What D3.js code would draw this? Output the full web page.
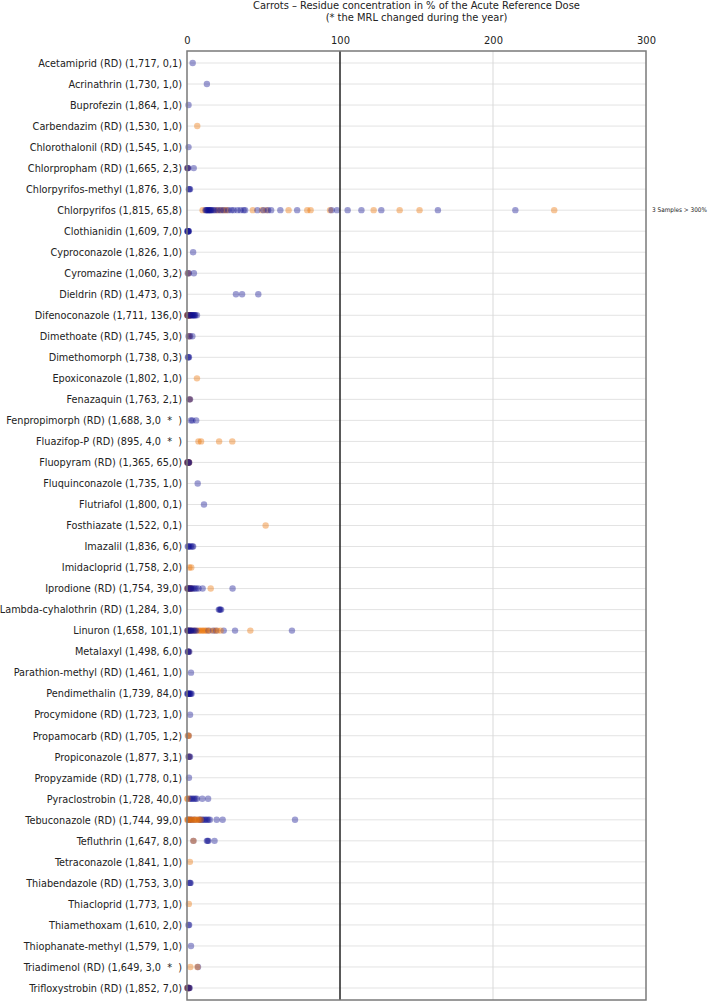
<!DOCTYPE html>
<html>
<head>
<meta charset="utf-8">
<script src="https://cdn.jsdelivr.net/npm/d3@7"></script>
<style>
  body { margin: 0; background: #fff; }
  svg text { font-family: "DejaVu Sans Condensed", "DejaVu Sans", sans-serif; fill: #222; }
</style>
</head>
<body>
<div id="container"></div>
<script>
/* DATA */
const substances = [
  "Acetamiprid (RD) (1,717, 0,1)",
  "Acrinathrin (1,730, 1,0)",
  "Buprofezin (1,864, 1,0)",
  "Carbendazim (RD) (1,530, 1,0)",
  "Chlorothalonil (RD) (1,545, 1,0)",
  "Chlorpropham (RD) (1,665, 2,3)",
  "Chlorpyrifos-methyl (1,876, 3,0)",
  "Chlorpyrifos (1,815, 65,8)",
  "Clothianidin (1,609, 7,0)",
  "Cyproconazole (1,826, 1,0)",
  "Cyromazine (1,060, 3,2)",
  "Dieldrin (RD) (1,473, 0,3)",
  "Difenoconazole (1,711, 136,0)",
  "Dimethoate (RD) (1,745, 3,0)",
  "Dimethomorph (1,738, 0,3)",
  "Epoxiconazole (1,802, 1,0)",
  "Fenazaquin (1,763, 2,1)",
  "Fenpropimorph (RD) (1,688, 3,0  *  )",
  "Fluazifop-P (RD) (895, 4,0  *  )",
  "Fluopyram (RD) (1,365, 65,0)",
  "Fluquinconazole (1,735, 1,0)",
  "Flutriafol (1,800, 0,1)",
  "Fosthiazate (1,522, 0,1)",
  "Imazalil (1,836, 6,0)",
  "Imidacloprid (1,758, 2,0)",
  "Iprodione (RD) (1,754, 39,0)",
  "Lambda-cyhalothrin (RD) (1,284, 3,0)",
  "Linuron (1,658, 101,1)",
  "Metalaxyl (1,498, 6,0)",
  "Parathion-methyl (RD) (1,461, 1,0)",
  "Pendimethalin (1,739, 84,0)",
  "Procymidone (RD) (1,723, 1,0)",
  "Propamocarb (RD) (1,705, 1,2)",
  "Propiconazole (1,877, 3,1)",
  "Propyzamide (RD) (1,778, 0,1)",
  "Pyraclostrobin (1,728, 40,0)",
  "Tebuconazole (RD) (1,744, 99,0)",
  "Tefluthrin (1,647, 8,0)",
  "Tetraconazole (1,841, 1,0)",
  "Thiabendazole (RD) (1,753, 3,0)",
  "Thiacloprid (1,773, 1,0)",
  "Thiamethoxam (1,610, 2,0)",
  "Thiophanate-methyl (1,579, 1,0)",
  "Triadimenol (RD) (1,649, 3,0  *  )",
  "Trifloxystrobin (RD) (1,852, 7,0)"
];

// % of ARfD per sample, blue series (one list per substance, same order)
const blueValues = [
  [3.7],
  [13],
  [1],
  [],
  [1],
  [0.2, 0.5, 0.8, 4.4],
  [1.2, 1.6, 2.0],
  [12, 12.5, 13, 13.5, 14, 14.5, 15, 15.5, 16, 17, 18, 20, 22, 24, 27, 29, 30.5, 33, 35, 37, 38, 46, 50, 53, 55, 61, 72, 94.5, 98, 105, 114, 127, 164, 214.6],
  [0.2, 0.4, 0.6, 0.8, 1.0, 1.2],
  [4],
  [0.5, 1.2, 4.5],
  [32, 36, 46.6],
  [0.2, 0.4, 0.7, 1, 1.3, 1.6, 2, 2.5, 3, 3.5, 4, 4.5, 5, 5.5, 6.5],
  [1, 2, 3.5],
  [0.6, 1, 1.3],
  [],
  [1.5, 2],
  [2.5, 3.5, 6],
  [],
  [0.2, 0.4, 0.6, 0.8, 1, 1.2, 1.4],
  [7],
  [11.1],
  [],
  [0.5, 1, 1.5, 2.5, 3.5, 4],
  [],
  [0.2, 0.6, 1, 1.5, 2, 2.5, 3, 4, 5, 6, 7.5, 10.2, 29.8],
  [20.8, 21.3, 21.8, 22.3],
  [0.2, 0.5, 1, 1.5, 2, 2.5, 3, 4, 5, 6, 14, 17, 19, 24, 31.4, 68.6],
  [0.5, 0.8, 1, 1.5],
  [2.6],
  [0.2, 0.5, 0.8, 1.2, 1.6, 2, 2.5, 3],
  [2],
  [1],
  [1, 1.5, 2],
  [1.3],
  [1.7, 2.5, 3.5, 4.5, 5.5, 6.5, 10, 13.8],
  [1, 2, 3, 5, 8, 9, 10, 11, 12, 13, 14, 15, 19.4, 23.3, 70.6],
  [4.2, 13, 13.5, 14, 18],
  [],
  [1.5, 2, 2.3],
  [],
  [1, 1.4],
  [2.6],
  [7.2],
  [0.2, 0.5, 0.8, 1.1, 1.4, 1.7]
];

// % of ARfD per sample, orange series
const orangeValues = [
  [], [], [], [6.7], [],
  [0.3],
  [],
  [10.2, 19, 21, 23, 25, 26, 43, 49, 52, 66.4, 78.6, 80.8, 93.5, 122, 139, 152, 240],
  [], [],
  [0.8],
  [],
  [0.2, 0.5, 0.8, 1.2, 1.6, 2],
  [1.5],
  [],
  [6.5],
  [1.8],
  [],
  [7.5, 9.2, 21, 29.6],
  [0.2, 0.5, 0.8, 1.1, 1.4],
  [], [],
  [51.4],
  [],
  [1.5, 2.8],
  [0.3, 1, 2, 3, 15.5],
  [],
  [0.5, 1, 3, 5, 7, 8, 9, 10, 11, 12, 13, 15, 18, 20, 22, 41.4],
  [1],
  [],
  [],
  [],
  [0.5, 1.2],
  [1.3],
  [],
  [0.2, 0.5],
  [0.2, 0.6, 1, 2, 3, 4, 5, 6, 7, 8, 9],
  [4.2],
  [1.9],
  [],
  [1.2],
  [],
  [],
  [2.2, 6.8],
  [0.3, 0.7, 1, 1.3]
];

const xTicks = [0, 100, 200, 300];
const overflowRows = ["Chlorpyrifos (1,815, 65,8)"];
const overflowNotes = ["3 Samples > 300%"];
const titleLines = [
  "Carrots \u2013 Residue concentration in % of the Acute Reference Dose",
  "(* the MRL changed during the year)"
];

/* CONSTANTS */
const width = 709, height = 1003;
const plot = { left: 187, right: 646, top: 51, bottom: 1000 };
const colors = { blue: "#0f0f91", orange: "#ea7000" };

// interleave the two series within each row so overlaps mix
const points = [];
substances.forEach((s, i) => {
  const b = blueValues[i], o = orangeValues[i];
  for (let k = 0; k < Math.max(b.length, o.length); k++) {
    if (k < b.length) points.push({ s, v: b[k], series: "blue" });
    if (k < o.length) points.push({ s, v: o[k], series: "orange" });
  }
});

/* SCALES */
const xScale = d3.scaleLinear().domain([0, 300]).range([plot.left, plot.right]);
const yScale = d3.scalePoint().domain(substances).range([63, 988]);

const svg = d3.select("#container").append("svg")
  .attr("width", width).attr("height", height);

// title
svg.selectAll("text.title").data(titleLines).join("text")
  .attr("class", "title")
  .attr("x", (plot.left + plot.right) / 2)
  .attr("y", (d, i) => 9 + i * 12)
  .attr("text-anchor", "middle")
  .style("font-size", "11px")
  .text(d => d);

// horizontal gridlines
svg.append("g").selectAll("line").data(substances).join("line")
  .attr("x1", plot.left).attr("x2", plot.right)
  .attr("y1", d => yScale(d)).attr("y2", d => yScale(d))
  .attr("stroke", "#e3e3e3").attr("stroke-width", 1);

// vertical line at 200
svg.append("line")
  .attr("x1", xScale(200)).attr("x2", xScale(200))
  .attr("y1", plot.top).attr("y2", plot.bottom)
  .attr("stroke", "#d9d9d9");

// top axis
const xAxis = d3.axisTop(xScale).tickValues(xTicks).tickSize(0).tickPadding(7);
svg.append("g")
  .attr("transform", `translate(0,${plot.top})`)
  .call(xAxis)
  .call(g => g.select(".domain").remove())
  .call(g => g.selectAll("text").style("font-size", "11px").style("font-family", null).attr("fill", "#222"));

// category labels
svg.append("g").selectAll("text").data(substances).join("text")
  .attr("x", plot.left - 5)
  .attr("y", d => yScale(d))
  .attr("dy", "0.35em")
  .attr("text-anchor", "end")
  .style("font-size", "10.8px")
  .style("white-space", "pre")
  .text(d => d);

// points
svg.append("g").selectAll("circle").data(points).join("circle")
  .attr("cx", d => xScale(d.v))
  .attr("cy", d => yScale(d.s))
  .attr("r", 3.2)
  .attr("fill", d => colors[d.series])
  .attr("fill-opacity", 0.4);

// 100% line
svg.append("line")
  .attr("x1", xScale(100)).attr("x2", xScale(100))
  .attr("y1", plot.top).attr("y2", plot.bottom)
  .attr("stroke", "#222").attr("stroke-width", 1.5);

// frame
svg.append("rect")
  .attr("x", plot.left).attr("y", plot.top)
  .attr("width", plot.right - plot.left).attr("height", plot.bottom - plot.top)
  .attr("fill", "none").attr("stroke", "#7a7a7a").attr("stroke-width", 1.5);

// overflow note
svg.append("g").selectAll("text").data(overflowRows).join("text")
  .attr("x", plot.right + 6)
  .attr("y", d => yScale(d))
  .attr("dy", "0.35em")
  .style("font-size", "6.4px")
  .text((d, i) => overflowNotes[i]);
</script>
</body>
</html>
